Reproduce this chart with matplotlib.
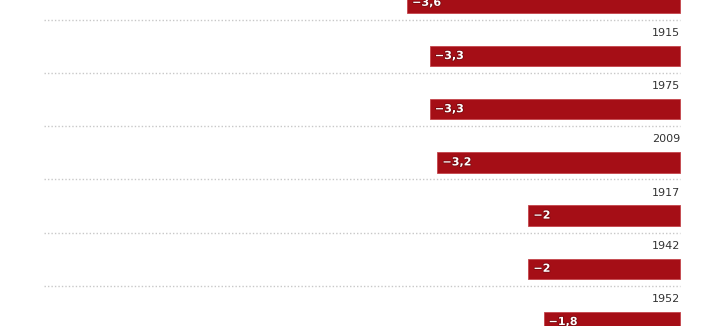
import matplotlib
matplotlib.use("Agg")
import matplotlib.pyplot as plt
import matplotlib.patheffects as pe

years = ["", "1915", "1975", "2009", "1917", "1942", "1952"]
values = [-3.6, -3.3, -3.3, -3.2, -2.0, -2.0, -1.8]

BAR_COLOR = "#a50e16"
W, H = 712, 326
ROW = 53.2      # px per row
UNIT = 75.8     # px per value unit
ZERO_PX = 680
ROW0_PX = 2.8

fig = plt.figure(figsize=(W / 100, H / 100), dpi=100)
ax = fig.add_axes([0, 0, 1, 1])
ax.set_xlim(-ZERO_PX / UNIT, (W - ZERO_PX) / UNIT)
ax.set_ylim((H - ROW0_PX) / ROW, -ROW0_PX / ROW)
ax.axis("off")

ys = list(range(len(values)))
ax.barh(ys, values, height=20.5 / ROW, color=BAR_COLOR,
        edgecolor="#c4454b", linewidth=0.6, zorder=2)

def fmt(v):
    s = f"{abs(v):g}".replace(".", ",")
    return "\u2212" + s if v < 0 else s

for y, v, yr in zip(ys, values, years):
    ax.text(v + 5 / UNIT, y, fmt(v), color="white", fontsize=8,
            fontweight="bold", va="center", ha="left", zorder=3,
            path_effects=[pe.withStroke(linewidth=1.2, foreground="#7a0a10")])
    if yr:
        ax.text(0, y - 23 / ROW, yr, color="#333333", fontsize=8,
                va="center", ha="right", zorder=3)

left = (44 - ZERO_PX) / UNIT
for i in range(len(values) - 1):
    ax.plot([left, 0], [i + 17 / ROW] * 2, color="#c8c8c8",
            linestyle=(0, (1, 1.5)), linewidth=1.0, zorder=1)

fig.savefig("out.png", dpi=100)
